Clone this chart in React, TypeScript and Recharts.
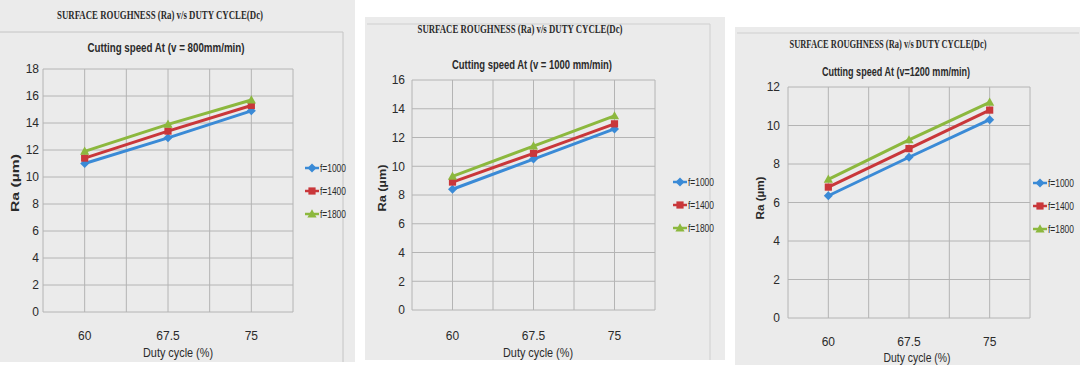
import React from 'react';
import { LineChart, Line, XAxis, YAxis, CartesianGrid } from 'recharts';

// ---------- data ----------
const dutyCycle = [60, 67.5, 75];
const dutyLabels = [60, 67.5, 75];
const gridX = [56.25, 60, 63.75, 67.5, 71.25, 75, 78.75];
const seriesNames = ['f=1000', 'f=1400', 'f=1800'];

const v800_f1000 = [11.0, 12.9, 14.9];
const v800_f1400 = [11.4, 13.4, 15.3];
const v800_f1800 = [11.9, 13.9, 15.7];

const v1000_f1000 = [8.4, 10.5, 12.6];
const v1000_f1400 = [8.9, 10.9, 12.95];
const v1000_f1800 = [9.3, 11.4, 13.5];

const v1200_f1000 = [6.35, 8.35, 10.3];
const v1200_f1400 = [6.8, 8.8, 10.8];
const v1200_f1800 = [7.2, 9.25, 11.2];

const yTicks800 = [0, 2, 4, 6, 8, 10, 12, 14, 16, 18];
const yTicks1000 = [0, 2, 4, 6, 8, 10, 12, 14, 16];
const yTicks1200 = [0, 2, 4, 6, 8, 10, 12];

const mainTitle = 'SURFACE ROUGHNESS (Ra) v/s DUTY CYCLE(Dc)';
const subTitles = [
  'Cutting speed At (v = 800mm/min)',
  'Cutting speed At (v = 1000 mm/min)',
  'Cutting speed At (v=1200 mm/min)',
];
const yAxisTitle = 'Ra (\u00b5m)';
const xAxisTitle = 'Duty cycle (%)';

// ---------- styles ----------
const COLORS = ['#3a8ad6', '#c9373a', '#8cb83e'];
const SHAPES = ['diamond', 'square', 'triangle'];
const GRID = '#b4b4b4';
const PANEL_BG = '#ebebeb';
const TEXT = '#2a2a2a';
const SANS = '"Liberation Sans", Arial, sans-serif';
const SERIF = '"Liberation Serif", "DejaVu Serif", serif';

function buildRows(series: number[][]) {
  return dutyCycle.map((d, i) => {
    const row: any = { dc: d };
    seriesNames.forEach((n, k) => {
      row[n] = series[k][i];
    });
    return row;
  });
}

function Marker({ cx, cy, shape, color }: any) {
  if (cx == null || cy == null) return null;
  if (shape === 'diamond')
    return <path d={`M${cx},${cy - 4.5}L${cx + 4.5},${cy}L${cx},${cy + 4.5}L${cx - 4.5},${cy}Z`} fill={color} />;
  if (shape === 'square') return <rect x={cx - 3.6} y={cy - 3.6} width={7.2} height={7.2} fill={color} />;
  return <path d={`M${cx},${cy - 4.8}L${cx + 4.6},${cy + 3.4}L${cx - 4.6},${cy + 3.4}Z`} fill={color} />;
}

function LegendBlock({ x, y }: { x: number; y: number }) {
  return (
    <g>
      {seriesNames.map((n, i) => {
        const yy = y + i * 23;
        return (
          <g key={n}>
            <line x1={x} x2={x + 14} y1={yy} y2={yy} stroke={COLORS[i]} strokeWidth={2.5} />
            <Marker cx={x + 7} cy={yy} shape={SHAPES[i]} color={COLORS[i]} />
            <text x={x + 15} y={yy + 4} fontSize={10} fontFamily={SANS} fill={TEXT} textLength={26} lengthAdjust="spacingAndGlyphs">
              {n}
            </text>
          </g>
        );
      })}
    </g>
  );
}

type Cfg = {
  left: number;
  width: number;
  margin: { top: number; right: number; bottom: number; left: number };
  yAxisWidth: number;
  yTickMargin: number;
  xTickMargin: number;
  yTicks: number[];
  series: number[][];
};

const cfgs: Cfg[] = [
  {
    left: 0, width: 355,
    margin: { top: 69, right: 62, bottom: 13, left: 5 },
    yAxisWidth: 38, yTickMargin: 4, xTickMargin: 19,
    yTicks: yTicks800,
    series: [v800_f1000, v800_f1400, v800_f1800],
  },
  {
    left: 365, width: 360,
    margin: { top: 80, right: 70, bottom: 15, left: 7 },
    yAxisWidth: 40, yTickMargin: 7, xTickMargin: 21,
    yTicks: yTicks1000,
    series: [v1000_f1000, v1000_f1400, v1000_f1800],
  },
  {
    left: 735, width: 345,
    margin: { top: 87, right: 50, bottom: 7, left: 13 },
    yAxisWidth: 40, yTickMargin: 8, xTickMargin: 19,
    yTicks: yTicks1200,
    series: [v1200_f1000, v1200_f1400, v1200_f1800],
  },
];

function Chart({ cfg }: { cfg: Cfg }) {
  const rows = buildRows(cfg.series);
  const yMax = cfg.yTicks[cfg.yTicks.length - 1];
  return (
    <div style={{ position: 'absolute', left: cfg.left, top: 0, width: cfg.width, height: 365 }}>
      <LineChart width={cfg.width} height={365} data={rows} margin={cfg.margin}>
        <CartesianGrid stroke={GRID} strokeWidth={1} />
        <XAxis
          dataKey="dc"
          type="number"
          domain={[gridX[0], gridX[gridX.length - 1]]}
          ticks={gridX}
          tickFormatter={(v: number) => (dutyLabels.includes(v) ? String(v) : '')}
          axisLine={false}
          tickLine={false}
          tickSize={0}
          tickMargin={cfg.xTickMargin}
          height={40}
          tick={{ fontSize: 12, fill: TEXT, fontFamily: SANS }}
          interval={0}
        />
        <YAxis
          type="number"
          domain={[0, yMax]}
          ticks={cfg.yTicks}
          axisLine={false}
          tickLine={false}
          tickSize={0}
          tickMargin={cfg.yTickMargin}
          width={cfg.yAxisWidth}
          tick={{ fontSize: 12, fill: TEXT, fontFamily: SANS }}
          interval={0}
        />
        {seriesNames.map((n, i) => (
          <Line
            key={n}
            dataKey={n}
            name={n}
            stroke={COLORS[i]}
            strokeWidth={3}
            isAnimationActive={false}
            dot={(p: any) => <Marker key={`${n}-${p.index}`} cx={p.cx} cy={p.cy} shape={SHAPES[i]} color={COLORS[i]} />}
            activeDot={false}
          />
        ))}
      </LineChart>
    </div>
  );
}

const texts = [
  { title: { x: 160, y: 19, w: 206 }, sub: { x: 166, y: 52, w: 157 }, yl: { x: 19, y: 183, w: 58 }, xl: { x: 178, y: 357, w: 70 }, lg: { x: 305, y: 168 } },
  { title: { x: 520, y: 33, w: 205 }, sub: { x: 532, y: 69, w: 160 }, yl: { x: 386, y: 188, w: 47 }, xl: { x: 538, y: 357, w: 70 }, lg: { x: 673, y: 182 } },
  { title: { x: 888, y: 48, w: 197 }, sub: { x: 896, y: 76, w: 148 }, yl: { x: 764, y: 198, w: 43 }, xl: { x: 917, y: 362, w: 67 }, lg: { x: 1033, y: 183 } },
];

export default function App() {
  return (
    <div style={{ position: 'fixed', left: 0, top: 0, width: 1080, height: 365, background: '#ffffff', overflow: 'hidden' }}>
      {/* paper panels */}
      <div style={{ position: 'absolute', left: 0, top: 0, width: 355, height: 362, background: PANEL_BG }} />
      <div style={{ position: 'absolute', left: 365, top: 17, width: 360, height: 343, background: PANEL_BG }} />
      <div style={{ position: 'absolute', left: 735, top: 27, width: 345, height: 338, background: PANEL_BG }} />
      {/* chart frames */}
      <svg width={1080} height={365} style={{ position: 'absolute', left: 0, top: 0 }}>
        <path d="M0,32H343V362" fill="none" stroke="#c4c4c4" strokeWidth={1} />
        <path d="M367,24H710V360" fill="none" stroke="#cfcfcf" strokeWidth={1} />
        <path d="M737,33H1079" fill="none" stroke="#cfcfcf" strokeWidth={1} />
      </svg>
      {cfgs.map((c, i) => (
        <Chart key={i} cfg={c} />
      ))}
      <svg width={1080} height={365} style={{ position: 'absolute', left: 0, top: 0, pointerEvents: 'none' }}>
        {texts.map((t, i) => (
          <g key={i} fill={TEXT}>
            <text x={t.title.x} y={t.title.y} textAnchor="middle" fontFamily={SERIF} fontWeight="bold" fontSize={12}
              textLength={t.title.w} lengthAdjust="spacingAndGlyphs">{mainTitle}</text>
            <text x={t.sub.x} y={t.sub.y} textAnchor="middle" fontFamily={SANS} fontWeight="bold" fontSize={12}
              textLength={t.sub.w} lengthAdjust="spacingAndGlyphs">{subTitles[i]}</text>
            <text x={t.yl.x} y={t.yl.y} textAnchor="middle" fontFamily={SANS} fontWeight="bold" fontSize={11}
              transform={`rotate(-90 ${t.yl.x} ${t.yl.y})`} textLength={t.yl.w} lengthAdjust="spacingAndGlyphs">{yAxisTitle}</text>
            <text x={t.xl.x} y={t.xl.y} textAnchor="middle" fontFamily={SANS} fontSize={13.5}
              textLength={t.xl.w} lengthAdjust="spacingAndGlyphs">{xAxisTitle}</text>
            <LegendBlock x={t.lg.x} y={t.lg.y} />
          </g>
        ))}
      </svg>
    </div>
  );
}
